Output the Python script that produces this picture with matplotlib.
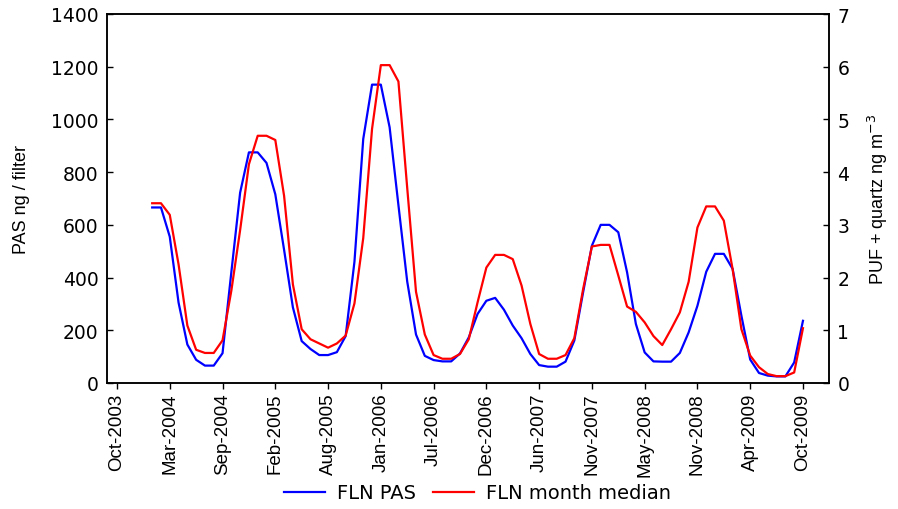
import matplotlib
matplotlib.use("Agg")
import matplotlib.pyplot as plt
import numpy as np

plt.rcParams['font.family'] = ['Liberation Sans', 'DejaVu Sans']

# tick labels (every 6 sampling periods)
tick_labels = ["Oct-2003", "Mar-2004", "Sep-2004", "Feb-2005", "Aug-2005", "Jan-2006",
               "Jul-2006", "Dec-2006", "Jun-2007", "Nov-2007", "May-2008", "Nov-2008",
               "Apr-2009", "Oct-2009"]
tick_step = 6
start_index = 4

# FLN PAS (ng / filter), left axis
fln_pas = [666, 666, 555, 305, 146, 88, 66, 66, 113, 420,
           722, 875, 875, 835, 716, 505, 287, 159, 129, 106,
           106, 117, 178, 460, 926, 1132, 1132, 970, 675, 385,
           184, 103, 87, 82, 82, 112, 173, 262, 312, 323,
           278, 218, 170, 110, 68, 62, 62, 81, 161, 344,
           521, 600, 600, 572, 420, 224, 116, 82, 81, 81,
           114, 192, 293, 422, 490, 490, 433, 255, 89, 38,
           28, 25, 25, 78, 236]

# FLN month median (PUF + quartz ng m-3), right axis
fln_median = [3.41, 3.41, 3.19, 2.25, 1.09, 0.63, 0.57, 0.57, 0.81, 1.75,
              2.90, 4.15, 4.69, 4.69, 4.61, 3.55, 1.87, 1.02, 0.83, 0.75,
              0.67, 0.75, 0.90, 1.51, 2.75, 4.82, 6.03, 6.03, 5.72, 3.70,
              1.73, 0.92, 0.53, 0.46, 0.46, 0.55, 0.83, 1.53, 2.19, 2.43,
              2.43, 2.35, 1.85, 1.12, 0.55, 0.46, 0.46, 0.53, 0.85, 1.78,
              2.59, 2.62, 2.62, 2.04, 1.45, 1.35, 1.15, 0.89, 0.72, 1.02,
              1.34, 1.92, 2.95, 3.35, 3.35, 3.08, 2.16, 1.02, 0.52, 0.30,
              0.17, 0.13, 0.13, 0.20, 1.04]

x = np.arange(start_index, start_index + len(fln_pas))
x2 = np.arange(start_index, start_index + len(fln_median))

wide_font = ['DejaVu Sans']

fig = plt.figure(figsize=(8.98, 5.10), dpi=100)
ax = fig.add_axes([107/898, 1 - 384/510, (829-107)/898, (384-15)/510])
ax2 = ax.twinx()

l1, = ax.plot(x, fln_pas, color='#0000FF', lw=1.6, label='FLN PAS')
l2, = ax2.plot(x2, fln_median, color='#FF0000', lw=1.6, label='FLN month median')

ax.set_xlim(-1.137, 80.96)
ax.set_ylim(0, 1400)
ax2.set_ylim(0, 7)
ax.set_yticks(np.arange(0, 1401, 200))
ax2.set_yticks(np.arange(0, 8, 1))
ticks = np.arange(0, tick_step * len(tick_labels), tick_step)
ax.set_xticks(ticks)
ax.set_xticklabels(tick_labels, rotation=90)

for a in (ax, ax2):
    for s in a.spines.values():
        s.set_linewidth(1.1)
        s.set_color('black')

ax.tick_params(axis='y', direction='in', length=4, width=1.0, labelsize=13.5, pad=6)
ax2.tick_params(axis='y', direction='in', length=4, width=1.0, labelsize=13.5, pad=6)
ax.tick_params(axis='x', direction='out', length=4, width=1.0, labelsize=13.5, pad=3)
for lab in ax.get_yticklabels() + ax2.get_yticklabels():
    lab.set_fontfamily(wide_font)

ax.set_ylabel('PAS ng / filter', fontsize=13, labelpad=15)
ax2.set_ylabel('PUF + quartz ng m$^{-3}$', fontsize=13, labelpad=12)

fig.legend(handles=[l1, l2], loc='center', bbox_to_anchor=(0.532, 1 - 494/510),
           ncol=2, frameon=False, prop={'family': wide_font, 'size': 14},
           handlelength=2.1, columnspacing=0.9, handletextpad=0.6)

fig.savefig('out.png', dpi=100)
